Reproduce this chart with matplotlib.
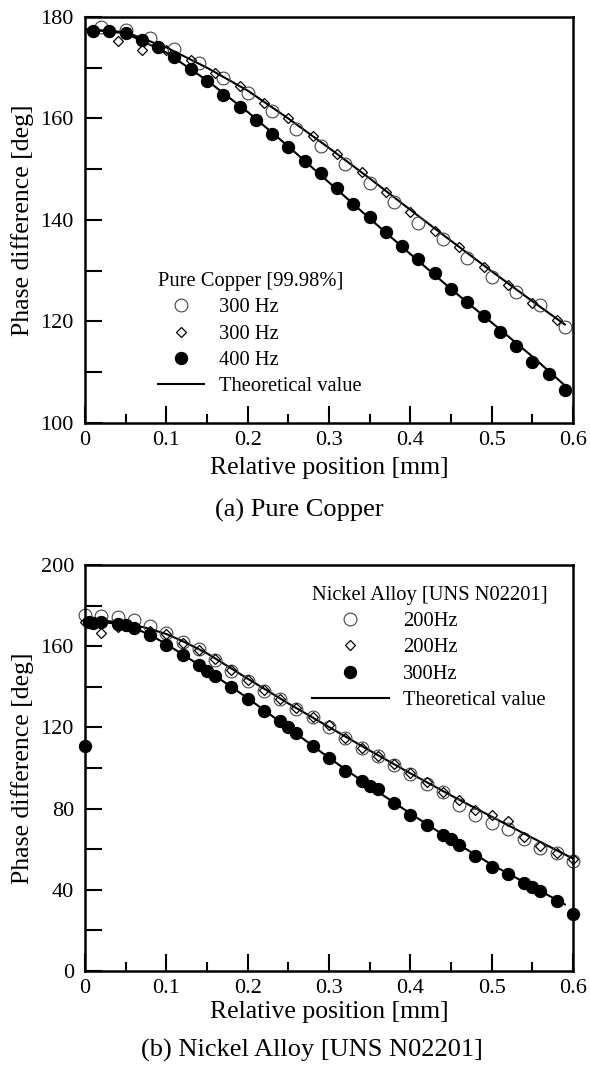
import numpy as np
import matplotlib
matplotlib.use("Agg")
import matplotlib.pyplot as plt
from matplotlib.lines import Line2D

plt.rcParams['font.family'] = ['Liberation Serif', 'DejaVu Serif']

## ---- (a) Pure Copper data ----
cu_circ_x = [0.02, 0.05, 0.08, 0.11, 0.14, 0.17, 0.20, 0.23, 0.26, 0.29,
             0.32, 0.35, 0.38, 0.41, 0.44, 0.47, 0.50, 0.53, 0.56, 0.59]
cu_circ_y = [178.0, 177.5, 175.9, 173.6, 171.0, 168.0, 165.0, 161.5, 158.0, 154.5,
             151.0, 147.3, 143.5, 139.5, 136.2, 132.5, 128.8, 125.9, 123.2, 119.0]
cu_diam_x = [0.01, 0.04, 0.07, 0.10, 0.13, 0.16, 0.19, 0.22, 0.25, 0.28,
             0.31, 0.34, 0.37, 0.40, 0.43, 0.46, 0.49, 0.52, 0.55, 0.58]
cu_diam_y = [177.0, 175.3, 173.5, 173.5, 171.5, 169.0, 166.5, 163.0, 160.0, 156.5,
             153.0, 149.5, 145.5, 141.5, 137.8, 134.6, 130.8, 127.2, 123.7, 120.3]
cu_fill_x = [0.01, 0.03, 0.05, 0.07, 0.09, 0.11, 0.13, 0.15, 0.17, 0.19,
             0.21, 0.23, 0.25, 0.27, 0.29, 0.31, 0.33, 0.35, 0.37, 0.39,
             0.41, 0.43, 0.45, 0.47, 0.49, 0.51, 0.53, 0.55, 0.57, 0.59]
cu_fill_y = [177.2, 177.3, 176.9, 175.4, 174.0, 172.1, 169.7, 167.4, 164.6, 162.3,
             159.8, 157.0, 154.3, 151.7, 149.2, 146.3, 143.2, 140.5, 137.6, 134.9,
             132.3, 129.5, 126.5, 123.9, 121.1, 118.0, 115.2, 112.1, 109.7, 106.6]
cu_th_x = [0.0, 0.05, 0.10, 0.15, 0.20, 0.25, 0.30, 0.35, 0.40, 0.45, 0.50, 0.55, 0.59]
cu_th300 = [177.6, 177.0, 174.0, 170.0, 165.5, 160.0, 154.2, 148.2, 142.0, 135.9, 129.9, 124.0, 119.4]
cu_th400 = [177.6, 176.8, 173.0, 167.5, 161.3, 154.5, 147.4, 140.3, 133.3, 126.4, 119.8, 113.1, 107.4]

## ---- (b) Nickel Alloy data ----
ni_x = [0.00, 0.02, 0.04, 0.06, 0.08, 0.10, 0.12, 0.14, 0.16, 0.18, 0.20,
        0.22, 0.24, 0.26, 0.28, 0.30, 0.32, 0.34, 0.36, 0.38, 0.40,
        0.42, 0.44, 0.46, 0.48, 0.50, 0.52, 0.54, 0.56, 0.58, 0.60]
ni_circ_y = [175.6, 175.0, 174.5, 173.0, 169.8, 166.4, 162.0, 158.7, 153.0, 148.0, 143.0,
             138.0, 134.0, 129.0, 125.0, 120.0, 115.0, 110.0, 106.0, 101.5, 97.0,
             92.0, 88.0, 82.0, 77.0, 73.0, 70.0, 65.0, 60.5, 58.0, 54.0]
ni_diam_y = [172.0, 166.5, 169.5, 169.5, 167.5, 166.0, 161.5, 158.0, 153.5, 148.5, 143.5,
             138.5, 134.0, 129.5, 125.0, 121.0, 115.0, 110.0, 106.0, 102.0, 97.5,
             93.0, 88.0, 84.0, 79.5, 77.0, 74.0, 66.0, 61.5, 58.0, 55.0]
ni_fill_x = [0.00, 0.005, 0.01, 0.02, 0.04, 0.05, 0.06, 0.08, 0.10, 0.12, 0.14, 0.15, 0.16,
             0.18, 0.20, 0.22, 0.24, 0.25, 0.26, 0.28, 0.30, 0.32, 0.34, 0.35, 0.36,
             0.38, 0.40, 0.42, 0.44, 0.45, 0.46, 0.48, 0.50, 0.52, 0.54, 0.55, 0.56,
             0.58, 0.60]
ni_fill_y = [111.0, 171.8, 171.5, 171.8, 171.0, 170.2, 169.0, 165.6, 160.7, 155.7, 150.8, 147.9, 145.4,
             139.7, 134.0, 128.2, 123.0, 120.0, 117.0, 110.8, 104.8, 98.5, 93.6, 91.0, 89.5,
             83.0, 77.0, 72.0, 67.0, 65.0, 62.0, 56.6, 51.2, 47.6, 43.5, 41.4, 39.4,
             34.5, 28.2]
ni_th_x = [0.0, 0.02, 0.04, 0.06, 0.08, 0.10, 0.12, 0.15, 0.20, 0.25, 0.30,
           0.35, 0.40, 0.45, 0.50, 0.55, 0.59, 0.60]
ni_th200 = [172.0, 172.5, 172.0, 170.5, 168.5, 166.0, 162.5, 156.5, 144.0, 131.8, 120.2,
            108.6, 97.4, 86.5, 76.0, 65.6, 57.4, 55.4]
ni_th300_x = ni_th_x[:-1]
ni_th300 = [171.5, 172.0, 171.0, 169.0, 165.6, 161.0, 156.0, 148.2, 134.4, 119.8, 105.0,
            91.0, 77.6, 64.6, 52.4, 41.6, 32.8]

tick_fs = 16
lab_fs = 18.5
cap_fs = 19
leg_fs = 14.8

fig = plt.figure(figsize=(5.9, 10.69), dpi=100)
W, H = 590.0, 1069.0
ax1 = fig.add_axes([85/W, 1-423/H, 488/W, 406/H])
ax2 = fig.add_axes([85/W, 1-971/H, 488/W, 406/H])

circ_kw = dict(ls='none', marker='o', ms=9.2, mfc='none', mec='#444444', mew=0.8, clip_on=False)
diam_kw = dict(ls='none', marker='D', ms=5.6, mfc='none', mec='black', mew=0.9, clip_on=False)
fill_kw = dict(ls='none', marker='o', ms=8.6, mfc='black', mec='black', clip_on=False)


def style(ax, ymin, ymax, ymaj, ymin_step, xpad):
    ax.set_xlim(0, 0.6)
    ax.set_ylim(ymin, ymax)
    ax.set_xticks(np.arange(0, 0.61, 0.1))
    ax.set_xticks(np.arange(0.05, 0.6, 0.1), minor=True)
    ax.set_xticklabels(['0', '0.1', '0.2', '0.3', '0.4', '0.5', '0.6'])
    ax.set_yticks(np.arange(ymin, ymax + 1, ymaj))
    ax.set_yticks(np.arange(ymin, ymax + 1, ymin_step), minor=True)
    ax.tick_params(which='both', direction='in', width=1.5, labelsize=tick_fs,
                   top=False, right=False)
    ax.tick_params(which='major', length=12)
    ax.tick_params(axis='x', which='major', pad=6)
    ax.tick_params(axis='y', which='major', pad=8)
    ax.tick_params(axis='x', which='minor', length=6.5)
    ax.tick_params(axis='y', which='minor', length=12)
    for s in ax.spines.values():
        s.set_linewidth(1.8)
    ax.set_xlabel('Relative position [mm]', fontsize=lab_fs, labelpad=xpad)
    ax.set_ylabel('Phase difference [deg]', fontsize=lab_fs, labelpad=5)


## (a) Pure Copper
ax1.plot(cu_th_x, cu_th300, 'k-', lw=1.5)
ax1.plot(cu_th_x, cu_th400, 'k-', lw=1.5)
ax1.plot(cu_circ_x, cu_circ_y, **circ_kw)
ax1.plot(cu_diam_x, cu_diam_y, **diam_kw)
ax1.plot(cu_fill_x, cu_fill_y, **fill_kw)
style(ax1, 100, 180, 20, 10, 5)

h1 = [Line2D([], [], **circ_kw), Line2D([], [], **diam_kw),
      Line2D([], [], **fill_kw), Line2D([], [], color='k', lw=1.5)]
ax1.legend(h1, ['300 Hz', '300 Hz', '400 Hz', 'Theoretical value'],
           title='Pure Copper [99.98%]', loc='upper left',
           bbox_to_anchor=(0.15, 0.372), frameon=False, fontsize=leg_fs,
           title_fontsize=leg_fs, handlelength=2.25, handletextpad=0.73,
           labelspacing=0.34, borderpad=0, borderaxespad=0, alignment='left')

## (b) Nickel Alloy
ax2.plot(ni_th_x, ni_th200, 'k-', lw=1.5)
ax2.plot(ni_th300_x, ni_th300, 'k-', lw=1.5)
ax2.plot(ni_x, ni_circ_y, **circ_kw)
ax2.plot(ni_x, ni_diam_y, **diam_kw)
ax2.plot(ni_fill_x, ni_fill_y, **fill_kw)
style(ax2, 0, 200, 40, 20, 2)

ax2.legend(h1, ['200Hz', '200Hz', '300Hz', 'Theoretical value'],
           title='Nickel Alloy [UNS N02201]', loc='upper left',
           bbox_to_anchor=(0.465, 0.949), frameon=False, fontsize=leg_fs,
           title_fontsize=leg_fs, handlelength=3.75, handletextpad=0.68,
           labelspacing=0.34, borderpad=0, borderaxespad=0, alignment='left')

fig.text(215/W, 1-510/H, '(a) Pure Copper', ha='left', va='center', fontsize=cap_fs)
fig.text(312/W, 1-1050/H, '(b) Nickel Alloy [UNS N02201]', ha='center', va='center',
         fontsize=cap_fs)

fig.savefig('out.png', dpi=100)
